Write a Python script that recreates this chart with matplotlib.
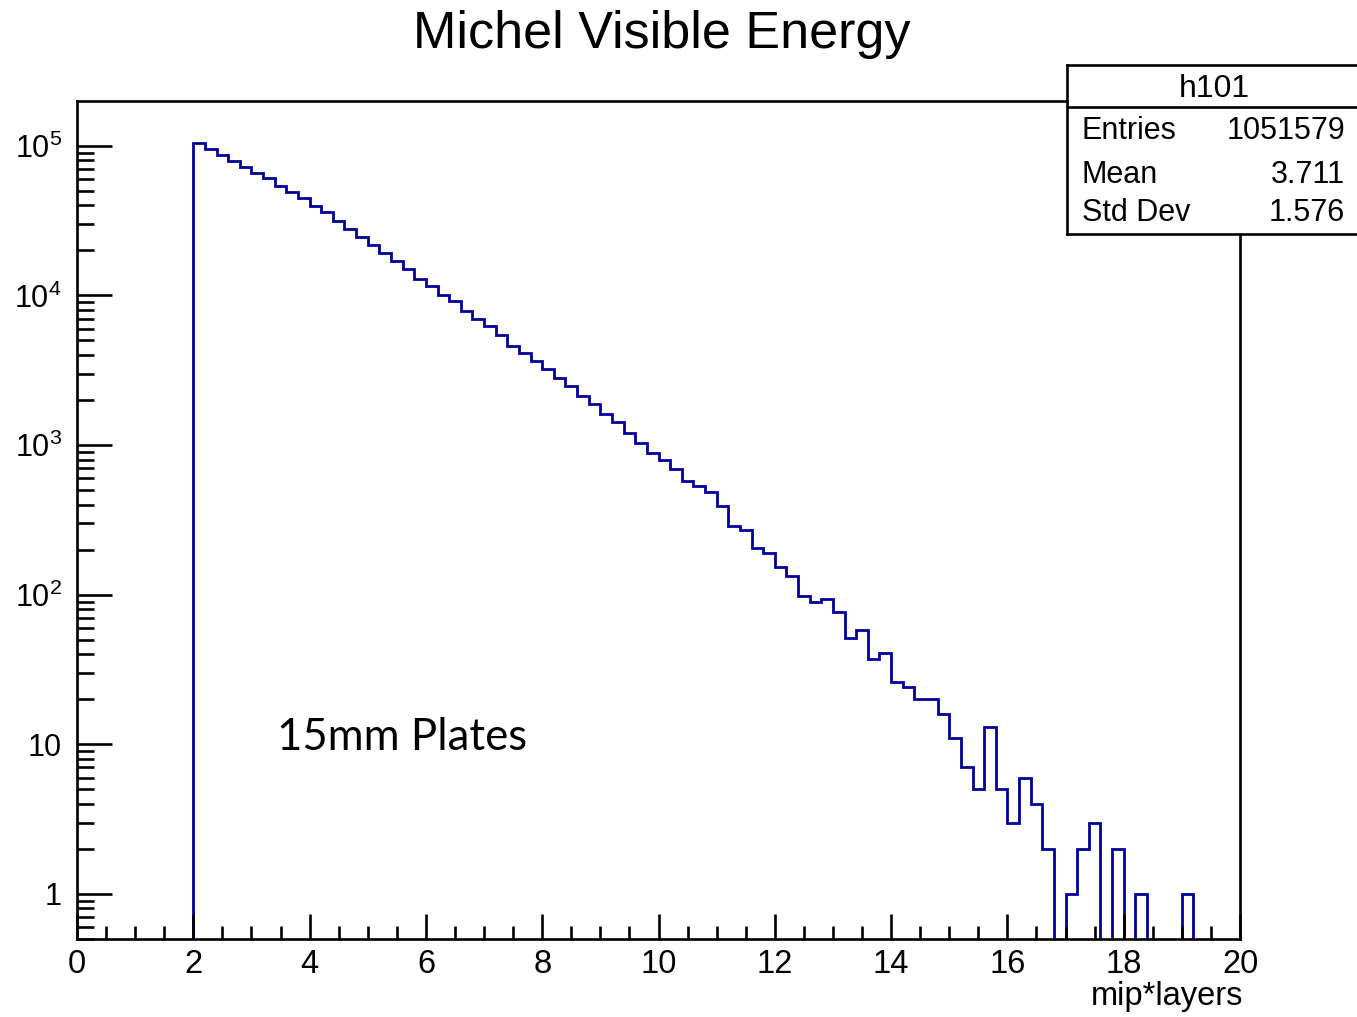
import numpy as np
import matplotlib
matplotlib.use("Agg")
import matplotlib.pyplot as plt
from matplotlib.ticker import FixedLocator, MultipleLocator, LogLocator, NullFormatter

plt.rcParams['font.family'] = ['Liberation Sans', 'DejaVu Sans']
plt.rcParams['mathtext.fontset'] = 'custom'
plt.rcParams['mathtext.rm'] = 'Liberation Sans'
plt.rcParams['mathtext.it'] = 'Liberation Sans:italic'

# histogram h101: 100 bins of 0.2 between 0 and 20
bin_edges = np.round(np.arange(0, 20.001, 0.2), 1)
counts = [0, 0, 0, 0, 0, 0, 0, 0, 0, 0,
          104700, 95500, 87000, 78900, 72000, 65600, 60400, 54200, 49400, 44800,
          39400, 35900, 31300, 27800, 24400, 21700, 19100, 16900, 15000, 12900,
          11500, 10030, 9100, 7870, 7000, 6250, 5440, 4590, 4100, 3640,
          3240, 2820, 2470, 2120, 1885, 1600, 1420, 1205, 1030, 885,
          792, 692, 577, 534, 487, 393, 288, 271, 204, 191,
          154, 134, 98, 89, 93, 77, 51, 58, 37, 41,
          26, 24, 20, 20, 16, 11, 7, 5, 13, 5,
          3, 6, 4, 2, 0, 1, 2, 3, 0, 2,
          0, 1, 0, 0, 0, 1, 0, 0, 0, 0]
stat_names = ['Entries', 'Mean', 'Std Dev']
stat_values = ['1051579', '3.711', '1.576']
y_ticks = [1, 10, 100, 1000, 10000, 100000]
y_labels = ['1', '10', '$10^{2}$', '$10^{3}$', '$10^{4}$', '$10^{5}$']

W, H = 1357, 1017
fig = plt.figure(figsize=(W / 100, H / 100), dpi=100)
ax = fig.add_axes([77 / W, 1 - 939 / H, (1240 - 77) / W, (939 - 101) / H])

ymin, ymax = 0.5, 1.99e5
vals = np.array(counts, dtype=float)
vals = np.where(vals > 0, vals, ymin / 100)  # empty bins drop below the frame, as in ROOT
ax.stairs(vals, bin_edges, color='#000099', linewidth=2.0, baseline=None)

ax.set_yscale('log')
ax.set_xlim(0, 20)
ax.set_ylim(ymin, ymax)

for s in ax.spines.values():
    s.set_linewidth(1.9)

ax.xaxis.set_major_locator(MultipleLocator(2))
ax.xaxis.set_minor_locator(MultipleLocator(0.5))
ax.yaxis.set_major_locator(FixedLocator(y_ticks))
ax.set_yticklabels(y_labels)
ax.yaxis.set_minor_locator(LogLocator(base=10, subs=np.arange(2, 10)))
ax.yaxis.set_minor_formatter(NullFormatter())

ax.tick_params(axis='both', which='both', direction='in', top=False, right=False,
               width=1.9, colors='black')
ax.tick_params(axis='x', which='major', length=18, labelsize=23.5, pad=7)
ax.tick_params(axis='x', which='minor', length=9.5)
ax.tick_params(axis='y', which='major', length=25, labelsize=22, pad=11)
ax.tick_params(axis='y', which='minor', length=12.5)

fig.text(662 / W, 1 - 48 / H, 'Michel Visible Energy', ha='center', va='baseline',
         fontsize=37.5)
fig.text(1243 / W, 1 - 1005 / H, 'mip*layers', ha='right', va='baseline', fontsize=23.5)
fig.text(277 / W, 1 - 750 / H, '15mm Plates', ha='left', va='baseline',
         fontsize=31.5, family=['Lato', 'DejaVu Sans'])

# stats box
sb = fig.add_axes([1067 / W, 1 - 234 / H, (W + 5 - 1067) / W, (234 - 65) / H])
sb.set_xticks([])
sb.set_yticks([])
sb.set_xlim(1067, W + 5)
sb.set_ylim(234, 65)
sb.set_facecolor('white')
for s in sb.spines.values():
    s.set_linewidth(1.9)
sb.axhline(107, color='black', linewidth=1.9)
sb.text(1214, 97, 'h101', ha='center', va='baseline', fontsize=23)
row_base = [139, 183, 221]
for name, val, yb in zip(stat_names, stat_values, row_base):
    sb.text(1082, yb, name, ha='left', va='baseline', fontsize=22)
    sb.text(1345, yb, val, ha='right', va='baseline', fontsize=22)

fig.savefig('out.png', dpi=100)
